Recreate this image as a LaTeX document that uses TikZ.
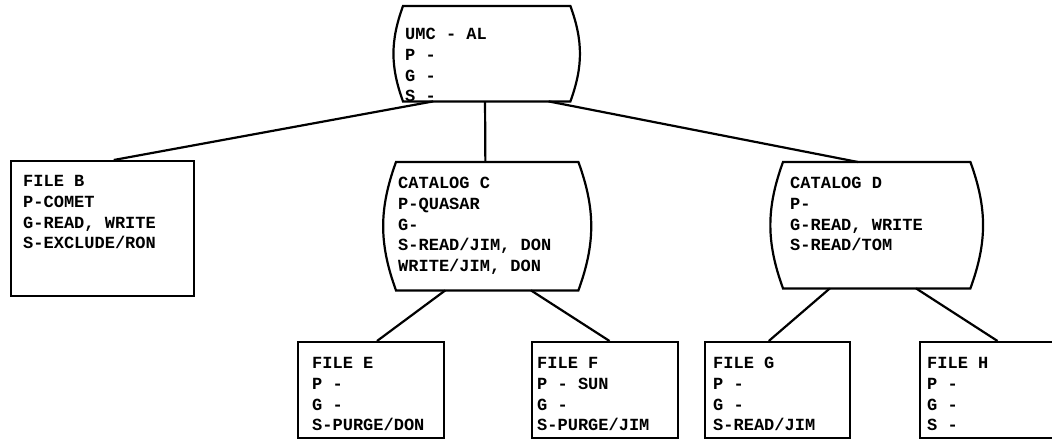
\documentclass[tikz,border=0pt]{standalone}
\usepackage{fontspec}
\usepackage{tikz}
\usetikzlibrary{calc}
\newfontfamily\lpfont{Liberation Mono}

\tikzset{
  frame/.style={draw, line width=2.2pt, inner sep=0pt, anchor=north west},
  barrel/.style={inner sep=0pt, anchor=north west},
  listing/.style={font=\lpfont\bfseries\fontsize{17}{20.8}\selectfont,
                  align=left, inner sep=0pt, anchor=north west},
  link/.style={line width=2.2pt},
}

\begin{document}
\begin{tikzpicture}[x=1pt, y=-1pt]
\useasboundingbox (0,0) rectangle (1052,439);

\node[barrel, minimum width=167pt, minimum height=95pt] (umc) at (403,6) {};
\node[listing] at (405,28) {UMC - AL\\P -\\G -\\S -};

\node[frame, minimum width=183pt, minimum height=135pt] (fileB) at (10,160) {};
\node[listing] at (23,175) {FILE B\\P-COMET\\G-READ, WRITE\\S-EXCLUDE/RON};

\node[barrel, minimum width=182pt, minimum height=128pt] (catC) at (396,162) {};
\node[listing] at (398,177) {CATALOG C\\P-QUASAR\\G-\\S-READ/JIM, DON\\WRITE/JIM, DON};

\node[barrel, minimum width=187pt, minimum height=126pt] (catD) at (783,162) {};
\node[listing] at (790,177) {CATALOG D\\P-\\G-READ, WRITE\\S-READ/TOM};

\node[frame, minimum width=146pt, minimum height=96pt] (fileE) at (297,341) {};
\node[listing] at (312,357) {FILE E\\P -\\G -\\S-PURGE/DON};

\node[frame, minimum width=146pt, minimum height=96pt] (fileF) at (531,341) {};
\node[listing] at (537,357) {FILE F\\P - SUN\\G -\\S-PURGE/JIM};

\node[frame, minimum width=145pt, minimum height=96pt] (fileG) at (704,341) {};
\node[listing] at (713,357) {FILE G\\P -\\G -\\S-READ/JIM};

\node[frame, minimum width=146pt, minimum height=96pt] (fileH) at (919,341) {};
\node[listing] at (927,357) {FILE H\\P -\\G -\\S -};

\foreach \b in {umc, catC, catD}
  \draw[link] (\b.north west) to[bend right=20] (\b.south west)
    -- (\b.south east) to[bend right=20] (\b.north east) -- cycle;

\draw[link] ($(umc.south west)!0.18!(umc.south east)$)
  -- ($(fileB.north west)!0.56!(fileB.north east)$);
\draw[link] ($(umc.south west)!0.49!(umc.south east)$)
  -- ($(catC.north west)!0.49!(catC.north east)$);
\draw[link] ($(umc.south west)!0.87!(umc.south east)$)
  -- ($(catD.north west)!0.40!(catD.north east)$);

\draw[link] ($(catC.south west)!0.27!(catC.south east)$)
  -- ($(fileE.north west)!0.54!(fileE.north east)$);
\draw[link] ($(catC.south west)!0.74!(catC.south east)$)
  -- ($(fileF.north west)!0.53!(fileF.north east)$);
\draw[link] ($(catD.south west)!0.25!(catD.south east)$)
  -- ($(fileG.north west)!0.44!(fileG.north east)$);
\draw[link] ($(catD.south west)!0.71!(catD.south east)$)
  -- ($(fileH.north west)!0.53!(fileH.north east)$);
\end{tikzpicture}
\end{document}
